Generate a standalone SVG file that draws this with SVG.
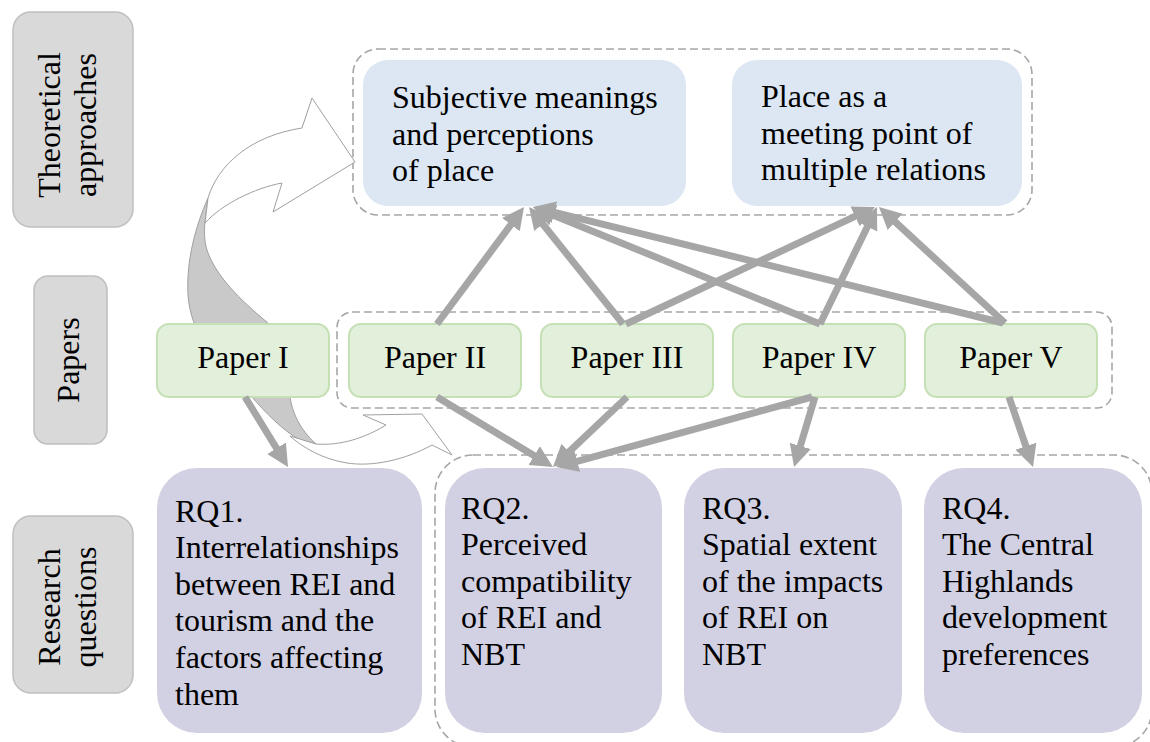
<svg xmlns="http://www.w3.org/2000/svg" width="1150" height="742" viewBox="0 0 1150 742">
<defs>
<style>
text{font-family:"Liberation Serif","Times New Roman",serif;font-size:32px;fill:#000}
.lbl{fill:#d9d9d9;stroke:#bfbfbf;stroke-width:1.5}
.theory{fill:#dce7f3}
.paper{fill:#e2efda;stroke:#c5e0b4;stroke-width:2}
.rq{fill:#d2d1e3}
.grp{fill:none;stroke:#a6a6a6;stroke-width:1.6;stroke-dasharray:8 4}
.conn line{stroke:#a6a6a6;stroke-width:7;marker-end:url(#ah)}
.curve{stroke:#a0a0a0;stroke-width:1}
.mid{text-anchor:middle}
</style>
<marker id="ah" markerUnits="userSpaceOnUse" markerWidth="24" markerHeight="24" viewBox="0 0 24 24" refX="4" refY="12" orient="auto">
<path d="M0,1 L22,12 L0,23 z" fill="#a6a6a6"/>
</marker>
</defs>
<rect width="1150" height="742" fill="#fff"/>

<g id="groups">
<rect class="grp" x="353" y="49" width="679" height="166" rx="25"/>
<rect class="grp" x="337" y="312" width="775" height="96" rx="15"/>
<rect class="grp" x="435" y="455" width="717" height="292" rx="38"/>
</g>

<g id="curved-arrow">
<path class="curve" fill="#c9c9c9" d="M208,198 C196,225 186,260 188,295 C190,330 215,370 252,397 C265,412 282,430 300,440 L316,444 C300,430 292,412 290,397 C288,370 285,345 268,323 C240,300 215,275 207,250 C204,240 204,230 205,223 Z"/>
<path class="curve" fill="#fff" d="M208,198 C218,165 250,136 302,128 L312,98 L355,162 L273,212 L282,183 C255,188 222,204 205,223 Z"/>
<path class="curve" fill="#fff" d="M316,444 C340,446 365,438 386,425 L363,415 L422,414 L452,455 L432,445 C405,460 372,467 347,463 C322,459 302,447 290,436 Z"/>
</g>

<g id="label-theory">
<rect class="lbl" x="13" y="12" width="120" height="215" rx="18"/>
<text class="mid" transform="translate(60,125) rotate(-90)">Theoretical</text>
<text class="mid" transform="translate(96,125) rotate(-90)">approaches</text>
</g>
<g id="label-papers">
<rect class="lbl" x="34" y="276" width="73" height="168" rx="14"/>
<text class="mid" transform="translate(79,360) rotate(-90)">Papers</text>
</g>
<g id="label-rq">
<rect class="lbl" x="13" y="516" width="120" height="177" rx="18"/>
<text class="mid" transform="translate(60,607) rotate(-90)">Research</text>
<text class="mid" transform="translate(96,607) rotate(-90)">questions</text>
</g>

<g id="theory1">
<rect class="theory" x="363" y="60" width="323" height="146" rx="25"/>
<text x="392" y="108">Subjective meanings</text>
<text x="392" y="145">and perceptions</text>
<text x="392" y="181">of place</text>
</g>
<g id="theory2">
<rect class="theory" x="732" y="60" width="290" height="146" rx="25"/>
<text x="761" y="107">Place as a</text>
<text x="761" y="144">meeting point of</text>
<text x="761" y="180">multiple relations</text>
</g>

<g id="paper1"><rect class="paper" x="157" y="324" width="172" height="73" rx="12"/><text class="mid" x="243" y="368">Paper I</text></g>
<g id="paper2"><rect class="paper" x="349" y="324" width="172" height="73" rx="12"/><text class="mid" x="435" y="368">Paper II</text></g>
<g id="paper3"><rect class="paper" x="541" y="324" width="172" height="73" rx="12"/><text class="mid" x="627" y="368">Paper III</text></g>
<g id="paper4"><rect class="paper" x="733" y="324" width="172" height="73" rx="12"/><text class="mid" x="819" y="368">Paper IV</text></g>
<g id="paper5"><rect class="paper" x="925" y="324" width="172" height="73" rx="12"/><text class="mid" x="1011" y="368">Paper V</text></g>

<g id="rq1">
<rect class="rq" x="157" y="468" width="265" height="265" rx="40"/>
<text x="175" y="522">RQ1.</text>
<text x="175" y="558">Interrelationships</text>
<text x="175" y="595">between REI and</text>
<text x="175" y="631">tourism and the</text>
<text x="175" y="668">factors affecting</text>
<text x="175" y="705">them</text>
</g>
<g id="rq2">
<rect class="rq" x="445" y="468" width="217" height="265" rx="40"/>
<text x="461" y="519">RQ2.</text>
<text x="461" y="555">Perceived</text>
<text x="461" y="592">compatibility</text>
<text x="461" y="628">of REI and</text>
<text x="461" y="665">NBT</text>
</g>
<g id="rq3">
<rect class="rq" x="684" y="468" width="218" height="265" rx="40"/>
<text x="702" y="519">RQ3.</text>
<text x="702" y="555">Spatial extent</text>
<text x="702" y="592">of the impacts</text>
<text x="702" y="628">of REI on</text>
<text x="702" y="665">NBT</text>
</g>
<g id="rq4">
<rect class="rq" x="924" y="468" width="218" height="265" rx="40"/>
<text x="942" y="519">RQ4.</text>
<text x="942" y="555">The Central</text>
<text x="942" y="592">Highlands</text>
<text x="942" y="628">development</text>
<text x="942" y="665">preferences</text>
</g>

<g id="connectors" class="conn">
<line x1="437" y1="324" x2="513.3" y2="221.4"/>
<line x1="623" y1="324" x2="540.3" y2="221"/>
<line x1="820" y1="324" x2="549.7" y2="213.8"/>
<line x1="1003" y1="323" x2="550.5" y2="211.3"/>
<line x1="626" y1="324" x2="858.7" y2="214.7"/>
<line x1="820" y1="324" x2="869.1" y2="223.2"/>
<line x1="1005" y1="323" x2="892.2" y2="219.2"/>
<line x1="245" y1="397" x2="278.6" y2="451.7"/>
<line x1="437" y1="397" x2="537.6" y2="457.7"/>
<line x1="627" y1="397" x2="566.1" y2="454.6"/>
<line x1="812" y1="397" x2="573.4" y2="462.3"/>
<line x1="815" y1="397" x2="799.2" y2="449.8"/>
<line x1="1009" y1="397" x2="1027.2" y2="450"/>
</g>
</svg>
